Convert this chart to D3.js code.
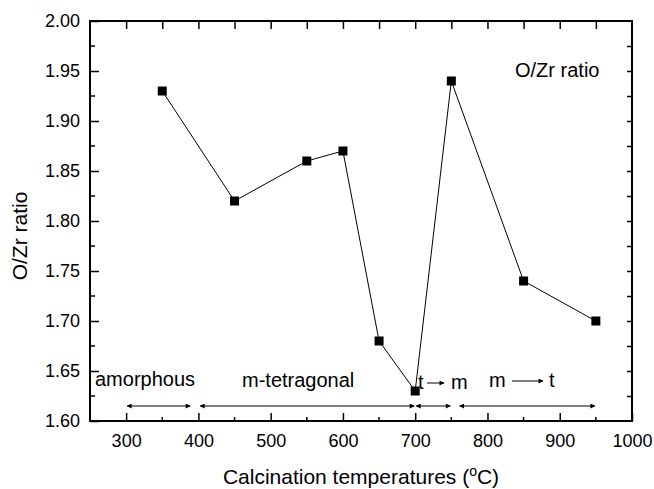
<!DOCTYPE html>
<html lang="en">
<head>
<meta charset="UTF-8">
<title>O/Zr ratio</title>
<script src="https://d3js.org/d3.v7.min.js"></script>
<style>
    body { margin: 0; padding: 0; background: #fff; overflow: hidden; }
    text { font-family: Arial, "Liberation Sans", sans-serif; fill: #000; }
</style>
</head>
<body>
<script>
    // data
    const temps = [350, 450, 550, 600, 650, 700, 750, 850, 950];
    const ratios = [1.93, 1.82, 1.86, 1.87, 1.68, 1.63, 1.94, 1.74, 1.70];

    const xTicks = [300, 400, 500, 600, 700, 800, 900, 1000];
    const yTicks = [1.60, 1.65, 1.70, 1.75, 1.80, 1.85, 1.90, 1.95, 2.00];

    // phase regions: [from, to] in degC
    const phaseArrows = [[300, 390], [401, 700], [700, 750], [760, 950]];

    const width = 654, height = 489;
    const margin = { left: 90, right: 22, top: 21, bottom: 68 };

    const svg = d3.select("body").append("svg")
        .attr("width", width)
        .attr("height", height);

    const x = d3.scaleLinear().domain([250, 1000]).range([margin.left, width - margin.right]);
    const y = d3.scaleLinear().domain([1.60, 2.00]).range([height - margin.bottom, margin.top]);

    const x0 = x.range()[0], x1 = x.range()[1];
    const y0 = y.range()[0], y1 = y.range()[1];

    // arrow heads
    const defs = svg.append("defs");
    defs.append("marker")
        .attr("id", "head")
        .attr("viewBox", "0 0 10 10")
        .attr("refX", 9).attr("refY", 5)
        .attr("markerWidth", 8).attr("markerHeight", 5)
        .attr("markerUnits", "userSpaceOnUse")
        .attr("orient", "auto-start-reverse")
        .append("path").attr("d", "M0,0 L10,5 L0,10 z").attr("fill", "#000");

    // minor tick helpers
    const xMinor = d3.range(350, 1000, 100);
    const yMinor = d3.range(1.625, 2.0, 0.05);

    // bottom axis
    const bottomAx = svg.append("g").attr("transform", `translate(0,${y0})`)
        .call(d3.axisBottom(x).tickValues(xTicks).tickSize(-8).tickPadding(13).tickFormat(d3.format("d")));
    bottomAx.select(".domain").remove();
    bottomAx.selectAll("line").attr("stroke-width", 1.5);
    bottomAx.selectAll("text").attr("font-size", 18);
    bottomAx.selectAll(".minor").data(xMinor).enter().append("line")
        .attr("x1", d => x(d)).attr("x2", d => x(d)).attr("y1", 0).attr("y2", -4)
        .attr("stroke", "#000").attr("stroke-width", 1.5);

    // left axis
    const leftAx = svg.append("g").attr("transform", `translate(${x0},0)`)
        .call(d3.axisLeft(y).tickValues(yTicks).tickSize(-9).tickPadding(10).tickFormat(d3.format(".2f")));
    leftAx.select(".domain").remove();
    leftAx.selectAll("line").attr("stroke-width", 1.5);
    leftAx.selectAll("text").attr("font-size", 18);
    leftAx.selectAll(".minor").data(yMinor).enter().append("line")
        .attr("y1", d => y(d)).attr("y2", d => y(d)).attr("x1", 0).attr("x2", 5)
        .attr("stroke", "#000").attr("stroke-width", 1.5);

    // top axis (ticks only)
    const topAx = svg.append("g").attr("transform", `translate(0,${y1})`)
        .call(d3.axisTop(x).tickValues(d3.range(300, 1000, 50)).tickSize(-8).tickFormat(""));
    topAx.select(".domain").remove();
    topAx.selectAll("line").attr("stroke-width", 1.5);

    // right axis (ticks only)
    const rightAx = svg.append("g").attr("transform", `translate(${x1},0)`)
        .call(d3.axisRight(y).tickValues(d3.range(1.625, 2.0, 0.025)).tickSize(-5).tickFormat(""));
    rightAx.select(".domain").remove();
    rightAx.selectAll("line").attr("stroke-width", 1.5);

    // frame
    svg.append("rect")
        .attr("x", x0).attr("y", y1)
        .attr("width", x1 - x0).attr("height", y0 - y1)
        .attr("fill", "none").attr("stroke", "#000").attr("stroke-width", 2);

    // series
    const pts = temps.map((t, i) => [t, ratios[i]]);
    svg.append("path")
        .datum(pts)
        .attr("fill", "none")
        .attr("stroke", "#000")
        .attr("stroke-width", 1)
        .attr("d", d3.line().x(d => x(d[0])).y(d => y(d[1])));

    const sz = 9;
    svg.selectAll(".pt").data(pts).enter().append("rect")
        .attr("x", d => x(d[0]) - sz / 2)
        .attr("y", d => y(d[1]) - sz / 2)
        .attr("width", sz).attr("height", sz)
        .attr("fill", "#000");

    // phase arrows
    svg.selectAll(".phase").data(phaseArrows).enter().append("line")
        .attr("x1", d => x(d[0]) + 1).attr("x2", d => x(d[1]) - 1)
        .attr("y1", d => y(1.615)).attr("y2", d => y(1.615))
        .attr("stroke", "#000").attr("stroke-width", 1)
        .attr("marker-start", "url(#head)")
        .attr("marker-end", "url(#head)");

    // annotations
    svg.append("text").attr("x", 95).attr("y", 386).attr("font-size", 20).text("amorphous");
    svg.append("text").attr("x", 242).attr("y", 387).attr("font-size", 20).text("m-tetragonal");
    svg.append("text").attr("x", 418).attr("y", 389).attr("font-size", 20).text("t");
    svg.append("line").attr("x1", 427).attr("x2", 444).attr("y1", 383).attr("y2", 383)
        .attr("stroke", "#000").attr("stroke-width", 1).attr("marker-end", "url(#head)");
    svg.append("text").attr("x", 451).attr("y", 389).attr("font-size", 20).text("m");
    svg.append("text").attr("x", 489).attr("y", 387).attr("font-size", 20).text("m");
    svg.append("line").attr("x1", 512).attr("x2", 543).attr("y1", 381).attr("y2", 381)
        .attr("stroke", "#000").attr("stroke-width", 1).attr("marker-end", "url(#head)");
    svg.append("text").attr("x", 549).attr("y", 387).attr("font-size", 20).text("t");

    // legend label
    svg.append("text").attr("x", 515).attr("y", 77).attr("font-size", 20).text("O/Zr ratio");

    // axis titles
    const xt = svg.append("text")
        .attr("x", (x0 + x1) / 2).attr("y", 484)
        .attr("text-anchor", "middle").attr("font-size", 21);
    xt.append("tspan").text("Calcination temperatures (");
    xt.append("tspan").attr("font-size", 14).attr("dy", -8).text("o");
    xt.append("tspan").attr("dy", 8).text("C)");

    svg.append("text")
        .attr("transform", `translate(27,236) rotate(-90)`)
        .attr("text-anchor", "middle").attr("font-size", 21)
        .text("O/Zr ratio");
</script>
</body>
</html>
